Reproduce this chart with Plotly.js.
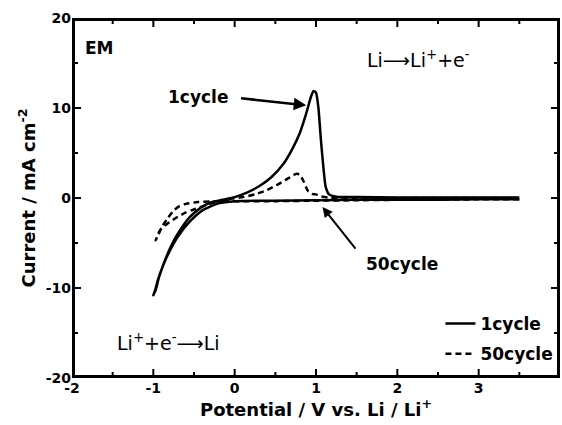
<!DOCTYPE html>
<html><head><meta charset="utf-8">
<script src="https://cdn.plot.ly/plotly-3.0.1.min.js"></script>
</head><body style="margin:0;background:#fff"><div id="chart"></div>
<script>
// 1st cycle: cathodic sweep 3.5 V -> -1 V, then anodic sweep back to 3.5 V
const cycle1_V = [3.5,3.0,2.5,2.0,1.5,1.0,0.5,0.0,-0.2,-0.4,-0.55,-0.7,-0.8,-0.88,-0.94,-0.98,-1.0,
  -0.97,-0.93,-0.86,-0.78,-0.68,-0.55,-0.42,-0.3,-0.15,0.0,0.15,0.3,0.45,0.6,0.7,0.8,0.88,0.94,0.97,1.0,1.03,1.06,1.09,1.12,1.16,1.25,1.5,2.0,2.5,3.0,3.5];
const cycle1_I = [-0.15,-0.15,-0.2,-0.2,-0.2,-0.25,-0.3,-0.35,-0.6,-1.4,-2.6,-4.3,-5.9,-7.5,-9.0,-10.3,-10.8,
  -10.2,-8.8,-7.0,-5.3,-3.7,-2.1,-1.1,-0.5,-0.2,0.1,0.6,1.3,2.3,3.8,5.3,7.2,9.4,11.3,11.9,11.7,10.0,6.5,3.5,1.2,0.4,0.15,0.1,0.05,0.05,0.05,0.05];
// 50th cycle
const cycle50_V = [3.5,3.0,2.0,1.5,1.0,0.5,0.0,-0.3,-0.45,-0.6,-0.68,-0.75,-0.82,-0.88,-0.93,-0.97,
  -0.92,-0.82,-0.72,-0.6,-0.51,-0.42,-0.35,-0.25,-0.1,0.1,0.25,0.4,0.55,0.68,0.76,0.8,0.85,0.9,0.95,1.0,1.05,1.15,1.5,2.0,3.0,3.5];
const cycle50_I = [-0.15,-0.15,-0.2,-0.25,-0.3,-0.35,-0.35,-0.4,-0.45,-0.65,-0.9,-1.4,-2.2,-3.0,-3.9,-4.7,
  -3.6,-2.8,-2.2,-1.6,-1.3,-1.0,-0.8,-0.5,-0.15,0.1,0.4,0.9,1.6,2.3,2.7,2.6,1.8,0.8,0.45,0.4,0.2,0.05,0.0,0.0,0.0,0.0];
const seriesNames = ['1cycle','50cycle'];
const xRange = [-2,4];
const yRange = [-20,20];
const xTickVals = [-2,-1,0,1,2,3,4];
const xTickLabels = ['-2','-1','0','1','2','3','4'];
const xMinorVals = [-1.5,-0.5,0.5,1.5,2.5,3.5];
const yTickVals = [-20,-10,0,10,20];
const yTickLabels = ['-20','-10','0','10','20'];
const yMinorVals = [-15,-5,5,15];

const W = 562, H = 425, M = {l:72, r:2, t:18, b:47};
const F = 'DejaVu Sans, Liberation Sans, sans-serif';
const B = s => '<b>' + s + '</b>';

// Axis frame and inward ticks, built from the axis ranges and tick arrays
const pxX = (xRange[1]-xRange[0]) / (W-M.l-M.r), pxY = (yRange[1]-yRange[0]) / (H-M.t-M.b);
const fx = [xRange[0],xRange[1],xRange[1],xRange[0],xRange[0]];
const fy = [yRange[0],yRange[0],yRange[1],yRange[1],yRange[0]];
const tx = [], ty = [];
function xt(v,len){ const d=len*pxY; tx.push(v,v,null,v,v,null); ty.push(yRange[0],yRange[0]+d,null,yRange[1],yRange[1]-d,null); }
function yt(v,len){ const d=len*pxX; tx.push(xRange[0],xRange[0]+d,null,xRange[1],xRange[1]-d,null); ty.push(v,v,null,v,v,null); }
xTickVals.forEach(v=>xt(v,9)); xMinorVals.forEach(v=>xt(v,6));
yTickVals.forEach(v=>yt(v,9)); yMinorVals.forEach(v=>yt(v,6));

const traces = [
  {x:cycle1_V, y:cycle1_I, name:B(seriesNames[0]), legendgroup:'a', mode:'lines', hoverinfo:'skip', line:{color:'#000',width:2.5,shape:'spline',smoothing:0.6}},
  {x:cycle50_V, y:cycle50_I, name:B(seriesNames[1]), legendgroup:'b', mode:'lines', hoverinfo:'skip', line:{color:'#000',width:2.5,dash:'6px,4px',shape:'spline',smoothing:0.6}},
  {x:fx, y:fy, mode:'lines', showlegend:false, hoverinfo:'skip', line:{color:'#000',width:6}},
  {x:tx, y:ty, mode:'lines', showlegend:false, hoverinfo:'skip', connectgaps:false, line:{color:'#000',width:2}}
];
function axis(range, vals, labels, title, standoff){
  return {range:range, tickmode:'array', tickvals:vals, ticktext:labels.map(B),
    showline:false, ticks:'', zeroline:false, showgrid:false, fixedrange:true,
    tickfont:{family:F, size:14, color:'#000'},
    title:{text:B(title), font:{family:F, size:18, color:'#000'}, standoff:standoff}};
}
const layout = {
  width:W, height:H, margin:M, paper_bgcolor:'#fff', plot_bgcolor:'#fff',
  font:{family:F,color:'#000',size:16},
  xaxis:axis(xRange, xTickVals, xTickLabels, 'Potential / V vs. Li / Li<sup>+</sup>', 4),
  yaxis:axis(yRange, yTickVals, yTickLabels, 'Current / mA cm<sup>-2</sup>', 5),
  showlegend:true,
  legend:{x:0.755, y:0.2, xanchor:'left', yanchor:'top', bgcolor:'rgba(0,0,0,0)', font:{family:F,size:17,color:'#000'}, tracegroupgap:5},
  annotations:[
    {x:-1.66, y:16.7, xref:'x', yref:'y', text:B('EM'), showarrow:false, font:{family:F,size:17,color:'#000'}},
    {x:-0.45, y:11.2, xref:'x', yref:'y', text:B('1cycle'), showarrow:false, font:{family:F,size:17,color:'#000'}},
    {x:0.88, y:10.3, ax:0.06, ay:11.1, axref:'x', ayref:'y', xref:'x', yref:'y', text:'', showarrow:true, arrowhead:2, arrowsize:1, arrowwidth:2.5, arrowcolor:'#000'},
    {x:2.06, y:-7.3, xref:'x', yref:'y', text:B('50cycle'), showarrow:false, font:{family:F,size:17,color:'#000'}},
    {x:1.08, y:-1.0, ax:1.5, ay:-5.8, axref:'x', ayref:'y', xref:'x', yref:'y', text:'', showarrow:true, arrowhead:2, arrowsize:1, arrowwidth:2, arrowcolor:'#000'},
    {x:2.26, y:15.4, xref:'x', yref:'y', text:'Li\u27F6Li<sup>+</sup>+e<sup>-</sup>', showarrow:false, font:{family:F,size:19,color:'#000'}},
    {x:-0.81, y:-16.0, xref:'x', yref:'y', text:'Li<sup>+</sup>+e<sup>-</sup>\u27F6Li', showarrow:false, font:{family:F,size:19,color:'#000'}}
  ]
};
Plotly.newPlot('chart', traces, layout, {displayModeBar:false});
</script></body></html>
